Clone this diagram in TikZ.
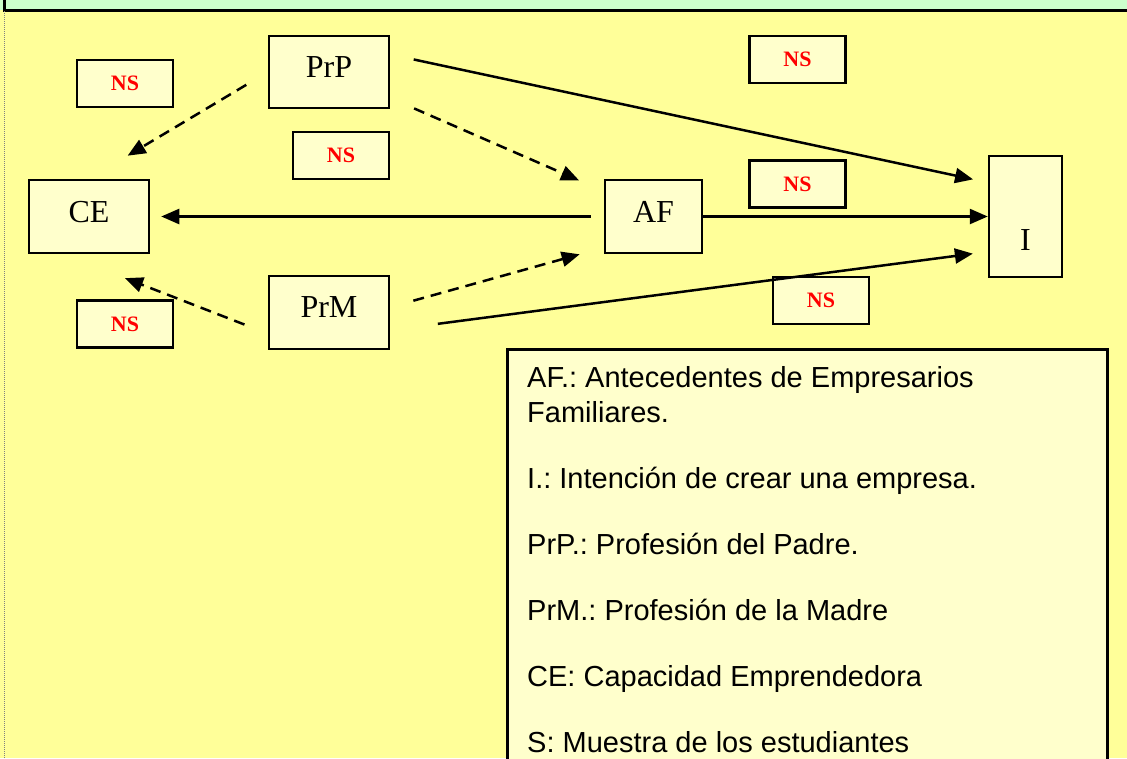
\documentclass[tikz,border=0pt]{standalone}
\usepackage{fontspec}
\setmainfont{Liberation Serif}
\newfontfamily\legendfont{Liberation Sans}
\usetikzlibrary{arrows.meta}
\frenchspacing

\definecolor{bgyellow}{HTML}{FFFF99}
\definecolor{boxyellow}{HTML}{FFFFCC}
\definecolor{bandgreen}{HTML}{CCFFCC}
\definecolor{nsred}{HTML}{FF0000}

\tikzset{
  varbox/.style = {draw, line width=2.5pt, fill=boxyellow, inner sep=0pt,
    text depth=10pt, font=\fontsize{32}{38}\selectfont},
  nsbox/.style = {draw, line width=2.5pt, fill=boxyellow, inner sep=0pt,
    minimum width=96pt, minimum height=47pt, text=nsred,
    font=\fontsize{22}{26}\selectfont\bfseries},
  effect/.style = {line width=2.5pt, -{Triangle[length=18pt,width=15pt]}},
  noeffect/.style = {effect, dash pattern=on 11pt off 7pt},
  legendbox/.style = {draw, line width=2.5pt, fill=boxyellow},
}

\begin{document}
\begin{tikzpicture}[x=1pt, y=-1pt]

    \useasboundingbox (0,0) rectangle (1127,758);
    \fill[bgyellow] (0,0) rectangle (1127,758);
    \fill[bandgreen] (0,0) rectangle (1127,10);
    \draw[line width=3pt] (4,0) -- (4,10) -- (1127,10);
    \draw[gray, densely dotted, line width=1pt] (4,11) -- (4,758);

    \node[varbox, minimum width=120pt, minimum height=72pt] (prp) at (329,72) {PrP};
    \node[varbox, minimum width=120pt, minimum height=73pt] (ce) at (89,216.5) {CE};
    \node[varbox, minimum width=97pt, minimum height=73pt] (af) at (653.5,216.5) {AF};
    \node[varbox, minimum width=73pt, minimum height=121pt,
      text height=68pt, text depth=0pt] (i) at (1025.5,216.5) {I};
    \node[varbox, minimum width=120pt, minimum height=73pt] (prm) at (329,312.5) {PrM};

    \node[nsbox] (ns1) at (125,83.5) {NS};
    \node[nsbox] (ns2) at (797.5,59.5) {NS};
    \node[nsbox] (ns3) at (341,155.5) {NS};
    \node[nsbox] (ns4) at (797.5,184) {NS};
    \node[nsbox] (ns5) at (125,324) {NS};
    \node[nsbox] (ns6) at (821,300.5) {NS};

    \draw[noeffect, shorten <=25pt, shorten >=45pt] (prp.west) -- (ce.north);
    \draw[noeffect, shorten <=26pt, shorten >=27pt] (prp.337) -- (af.153);
    \draw[effect, shorten <=24pt, shorten >=15pt] (prp.16) -- (i.138);
    \draw[effect, shorten <=13pt, shorten >=11pt] (af.west) -- (ce.east);
    \draw[effect] (af.east) -- (i.west);
    \draw[noeffect, shorten <=25pt, shorten >=66pt] (prm.199) -- (ce.236);
    \draw[noeffect, shorten <=24pt, shorten >=25pt] (prm.5) -- (af.212);
    \draw[effect, shorten <=48pt, shorten >=15pt] (prm.344) -- (i.223);

    \node[legendbox, minimum width=600pt, minimum height=440pt, anchor=north west]
      (legend) at (506,348) {};
    \node[anchor=north west, inner sep=0pt, align=left,
      font=\legendfont\fontsize{29}{35}\selectfont]
      (legendtext) at (527,366) {%
        AF.: Antecedentes de Empresarios\\
        Familiares.\\[31pt]
        I.: Intención de crear una empresa.\\[31pt]
        PrP.: Profesión del Padre.\\[31pt]
        PrM.: Profesión de la Madre\\[31pt]
        CE: Capacidad Emprendedora\\[31pt]
        S: Muestra de los estudiantes};

\end{tikzpicture}
\end{document}
